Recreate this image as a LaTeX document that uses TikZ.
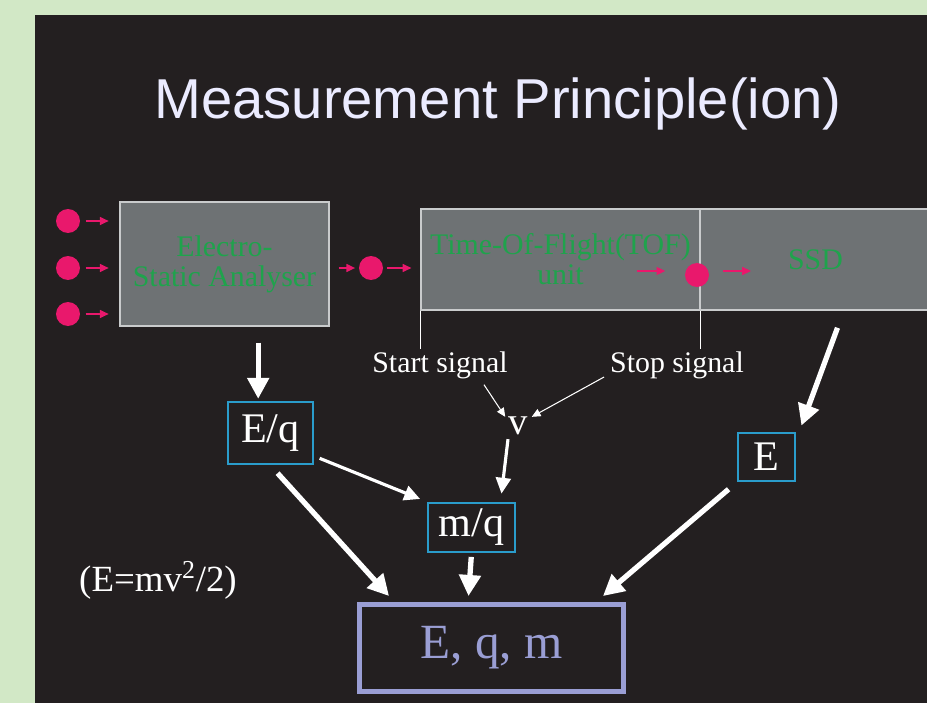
\documentclass[tikz,border=0pt]{standalone}
\usepackage{fontspec}
\setmainfont{Liberation Serif}
\newfontfamily\headfont{Liberation Sans}
\usetikzlibrary{arrows.meta,positioning,calc}
\definecolor{pageG}{HTML}{D2E8C6}
\definecolor{panelK}{HTML}{231F20}
\definecolor{unitF}{HTML}{6E7274}
\definecolor{unitL}{HTML}{C9CBCC}
\definecolor{unitT}{HTML}{1FA34C}
\definecolor{ionC}{HTML}{E9186C}
\definecolor{qtyL}{HTML}{2A9CCB}
\definecolor{resL}{HTML}{9A9ED4}
\newcommand{\fs}[1]{\fontsize{#1}{#1}\selectfont}

\begin{document}
\begin{tikzpicture}[x=0.02cm,y=-0.02cm,
  unit/.style={draw=unitL,fill=unitF,line width=0.9pt,text=unitT,align=center,
    font=\fs{17},inner sep=0pt},
  ion/.style={circle,fill=ionC,minimum size=0.48cm,inner sep=0pt},
  ionflow/.style={-{Triangle[length=5pt,width=4.5pt]},draw=ionC,line width=0.9pt},
  qty/.style={draw=qtyL,line width=1.6pt,text=white,font=\fs{24},inner sep=0pt},
  lbl/.style={text=white,font=\fs{17},inner sep=1pt},
  bigflow/.style={-{Triangle[length=12pt,width=12pt]},draw=white,line width=3pt},
  midflow/.style={-{Triangle[length=9pt,width=8.5pt]},draw=white,line width=1.8pt},
  sigflow/.style={-{Triangle[length=5pt,width=4.5pt]},draw=white,line width=0.6pt},
  wire/.style={draw=white,line width=0.6pt}]

  \useasboundingbox (0,0) rectangle (927,703);
  \fill[pageG] (0,0) rectangle (927,703);
  \fill[panelK] (35,15) rectangle (927,703);

  \node[text=white!92!blue,font=\headfont\fs{32}] (title) at (498,104)
    {Measurement Principle(ion)};

  % analysers
  \node[unit,minimum width=4.18cm,minimum height=2.48cm] (esa) at (224.5,264)
    {Electro-\\Static Analyser};
  \node[unit,minimum width=5.58cm,minimum height=2.02cm] (tof) at (560.5,259.5)
    {Time-Of-Flight(TOF)\\unit};
  \node[unit,minimum width=4.62cm,minimum height=2.02cm,text width=3.6cm] (ssd)
    at (815.5,259.5) {SSD};

  % ions
  \node[ion] (i1) at (68,221) {};
  \node[ion] (i2) at (68,268) {};
  \node[ion] (i3) at (68,314) {};
  \node[ion] (i4) at (371,268) {};
  \node[ion] (i5) at (697,275) {};
  \coordinate (ta) at (637,271);
  \coordinate (tb) at (751,271);

  \foreach \i in {i1,i2,i3}
    \draw[ionflow,shorten <=3pt,shorten >=6pt] (\i) -- (esa.west |- \i);
  \draw[ionflow,shorten <=5pt,shorten >=2pt] (esa.east |- i4) -- (i4);
  \draw[ionflow,shorten <=2pt,shorten >=5pt] (i4) -- (tof.west |- i4);
  \draw[ionflow,shorten >=11pt] (ta) -- (ta -| i5.west);
  \draw[ionflow,shorten <=8pt] (tb -| i5.east) -- (tb);

  % signals
  \node[lbl] (start) at (440,365) {Start signal};
  \node[lbl] (stop) at (677,365) {Stop signal};
  \draw[wire] (tof.south west) -- (tof.south west |- start.north);
  \draw[wire] (tof.south east) -- (tof.south east |- stop.north);
  \node[lbl,font=\fs{22}] (v) at (518,426) {v};
  \draw[sigflow] ($(start.south)+(44,4)$) -- ($(v.north west)+(-1,2)$);
  \draw[sigflow] ($(stop.west)+(-4,12)$) -- ($(v.north east)+(2,2)$);

  % quantities
  \node[qty,minimum width=1.7cm,minimum height=1.24cm] (eq) at (270.5,433) {E/q};
  \node[qty,minimum width=1.74cm,minimum height=0.98cm] (mq)
    at (471.5,527.5) {m/q};
  \node[qty,minimum width=1.14cm,minimum height=0.96cm] (e) at (766.5,457) {E};
  \node[draw=resL,line width=2.8pt,text=resL,font=\fs{28},inner sep=0pt,
    minimum width=5.28cm,minimum height=1.74cm] (res) at (491.5,648) {E, q, m};
  \node[lbl,font=\fs{21}] (law) at (158,580) {(E=mv\textsuperscript{2}/2)};

  \draw[bigflow,shorten <=9pt,shorten >=1pt] ([xshift=-7pt]eq.north |- esa.south)
    -- ([xshift=-7pt]eq.north);
  \draw[bigflow] ($(ssd.south)+(22,17)$) -- ($(e.north east)+(5,-6)$);
  \draw[midflow,shorten <=2pt,shorten >=4pt] ($(eq.east)+(2,24)$) -- (mq.north west);
  \draw[midflow] ($(v.south)+(-10,2)$) -- ($(mq.north)+(30,-8)$);
  \draw[bigflow,shorten <=6pt] (eq.south) -- ($(res.north west)+(32,-6)$);
  \draw[bigflow,shorten <=2pt] (mq.south) -- ($(mq.south |- res.north)+(-3,-6)$);
  \draw[bigflow,shorten <=6pt] (e.south west) -- ($(res.north east)+(-23,-6)$);
\end{tikzpicture}
\end{document}
